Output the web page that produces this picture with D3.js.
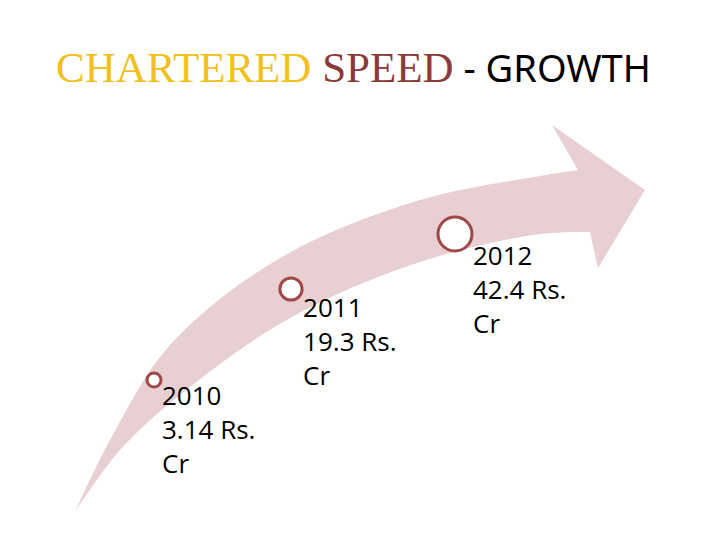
<!DOCTYPE html><html><head><meta charset="utf-8"><script src="https://cdn.jsdelivr.net/npm/d3@7"></script>
<style>body{margin:0;background:#fff}</style></head><body><svg width="720" height="540"></svg>
<script>
const years=["2010","2011","2012"];
const values=[3.14,19.3,42.4];
const unit="Rs.";
const svg=d3.select("svg");
const t=svg.append("text").attr("x",56).attr("y",82).attr("font-size",43);
t.append("tspan").attr("font-family","Liberation Serif").attr("fill","#f0c020").text("CHARTERED ");
t.append("tspan").attr("font-family","Liberation Serif").attr("fill","#8b3a3a").text("SPEED");
t.append("tspan").attr("font-family","Noto Sans").attr("font-size",38).attr("fill","#000").text(" - GROWTH");
const upper=[[75,512],[110,440],[170,345],[280,258],[420,200],[540,176],[578,170]];
const lower=[[590,232],[540,234],[420,262],[290,318],[180,395],[120,450],[75,512]];
const head=[[578,170],[552,125],[645,190],[598,268],[590,232]];
const line=d3.line().curve(d3.curveCatmullRom);
const p=line(upper)+"L"+head.slice(1).map(d=>d.join(",")).join("L")+line(lower).replace(/^M/,"L")+"Z";
svg.append("path").attr("d",p).attr("fill","#e8cfd2");
const x=d3.scaleLinear().domain([0,1,2]).range([154,291,455]);
const y=d3.scaleLinear().domain([0,1,2]).range([380,289,234]);
const r=d3.scaleLinear().domain([d3.min(values),d3.max(values)]).range([7,17]);
const g=svg.selectAll("g.pt").data(years).join("g");
g.append("circle").attr("cx",(d,i)=>x(i)).attr("cy",(d,i)=>y(i)).attr("r",(d,i)=>r(values[i]))
 .attr("fill","#fff").attr("stroke","#a04848").attr("stroke-width",3);
g.each(function(d,i){
 const tx=d3.select(this).append("text").attr("font-family","Open Sans").attr("font-size",26).attr("fill","#000");
 const x0=x(i)+r(values[i])+1, y0=y(i)+r(values[i])*0.6+21;
 [d,values[i]+" "+unit,"Cr"].forEach((s,k)=>tx.append("tspan").attr("x",x0).attr("y",y0+k*34).text(s));
});
</script></body></html>
